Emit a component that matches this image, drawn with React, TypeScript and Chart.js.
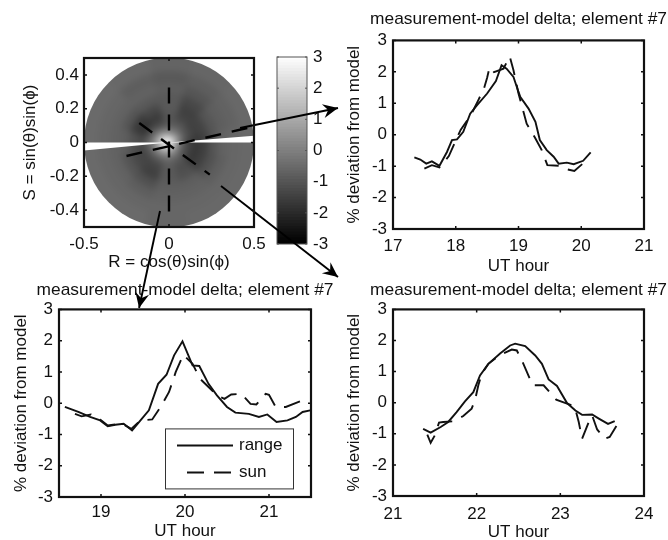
import React, { useEffect, useRef } from "react";
import { Chart, registerables } from "chart.js";

Chart.register(...registerables);

const FONT = "'Liberation Sans', Arial, sans-serif";
const FS = 17;
const TITLE_FS = 17.35;
const INK = "#111";
const TITLE = "measurement-model delta; element #7";

// ---------- data ----------
const yTicks = [-3, -2, -1, 0, 1, 2, 3];

const p1XTicks = [17, 18, 19, 20, 21];
const p1RangeX = [17.34, 17.435, 17.53, 17.62, 17.74, 17.86, 17.94, 18.02, 18.12, 18.23, 18.34, 18.5, 18.64, 18.73, 18.81, 18.92, 19.0, 19.03, 19.16, 19.27, 19.34, 19.45, 19.56, 19.64, 19.77, 19.88, 20.03, 20.15];
const p1RangeY = [-0.72, -0.79, -0.92, -0.85, -0.99, -0.55, -0.17, -0.15, 0.09, 0.67, 0.94, 1.31, 1.71, 2.21, 2.1, 1.84, 1.36, 1.2, 0.83, 0.41, -0.17, -0.49, -0.7, -0.92, -0.89, -0.94, -0.83, -0.56];
const p1SunX = [17.5, 17.62, 17.74, 17.89, 17.99, 18.08, 18.24, 18.36, 18.45, 18.5, 18.54, 18.61, 18.76, 18.86, 18.92, 19.0, 19.08, 19.13, 19.27, 19.37, 19.46, 19.66, 19.77, 19.89, 20.06];
const p1SunY = [-1.08, -0.97, -1.04, -0.68, -0.23, 0.16, 0.62, 1.1, 1.47, 1.81, 2.15, 1.99, 2.1, 2.49, 2.05, 1.31, 0.72, 0.35, -0.12, -0.49, -0.97, -0.99, -1.1, -1.15, -0.86];

const p2XTicks = [19, 20, 21];
const p2RangeX = [18.57, 18.73, 18.87, 18.99, 19.08, 19.17, 19.27, 19.37, 19.47, 19.57, 19.68, 19.78, 19.87, 19.97, 20.09, 20.17, 20.28, 20.38, 20.5, 20.6, 20.76, 20.88, 20.98, 21.09, 21.22, 21.32, 21.4, 21.49];
const p2RangeY = [-0.12, -0.28, -0.44, -0.55, -0.74, -0.69, -0.66, -0.87, -0.55, -0.23, 0.62, 0.91, 1.53, 1.98, 1.21, 1.19, 0.62, 0.25, -0.12, -0.3, -0.34, -0.44, -0.36, -0.6, -0.55, -0.44, -0.28, -0.23];
const p2SunX = [18.69, 18.77, 18.88, 18.99, 19.08, 19.17, 19.27, 19.36, 19.47, 19.61, 19.71, 19.81, 19.89, 19.98, 20.09, 20.18, 20.28, 20.38, 20.47, 20.55, 20.67, 20.78, 20.85, 20.96, 21.0, 21.08, 21.2, 21.4];
const p2SunY = [-0.34, -0.42, -0.36, -0.52, -0.71, -0.68, -0.68, -0.82, -0.55, -0.52, -0.12, 0.36, 1.0, 1.55, 1.26, 0.78, 0.52, 0.25, 0.14, 0.28, 0.3, -0.02, -0.04, 0.3, 0.27, -0.12, -0.12, 0.09];

const p3XTicks = [21, 22, 23, 24];
const p3RangeX = [21.36, 21.45, 21.57, 21.66, 21.76, 21.86, 21.96, 22.04, 22.14, 22.28, 22.4, 22.46, 22.58, 22.7, 22.78, 22.86, 22.96, 23.08, 23.18, 23.26, 23.38, 23.46, 23.57, 23.65];
const p3RangeY = [-0.84, -0.96, -0.78, -0.62, -0.3, 0.04, 0.34, 0.88, 1.25, 1.58, 1.84, 1.9, 1.82, 1.52, 1.25, 0.75, 0.54, -0.01, -0.25, -0.39, -0.38, -0.51, -0.68, -0.59];
const p3SunX = [21.41, 21.45, 21.5, 21.55, 21.6, 21.72, 21.84, 21.94, 21.98, 22.02, 22.06, 22.14, 22.28, 22.42, 22.48, 22.54, 22.67, 22.8, 22.95, 23.08, 23.17, 23.22, 23.26, 23.34, 23.38, 23.44, 23.53, 23.59, 23.67];
const p3SunY = [-1.03, -1.29, -1.05, -0.64, -0.62, -0.6, -0.43, -0.19, 0.08, 0.56, 0.93, 1.25, 1.54, 1.71, 1.68, 1.36, 0.56, 0.56, 0.1, -0.03, -0.11, -0.62, -1.16, -0.62, -0.41, -0.86, -1.16, -1.1, -0.75];

// residual map: ring radius, then value per 30-degree sector (0 = +R, counter-clockwise)
const ringRadii = [0.012, 0.03, 0.05, 0.075, 0.105, 0.14, 0.185, 0.235, 0.29, 0.35, 0.42, 0.5];
const ringValues = [
  [3, 3, 3, 3, 3, 3, 3, 3, 3, 3, 3, 3],
  [2.2, 2.4, 2.4, 2.4, 2.8, 2.9, 3.0, 2.8, 2.6, 2.4, 2.3, 2.2],
  [0.9, 1.2, 1.1, 1.2, 1.7, 2.0, 2.3, 2.0, 1.6, 1.4, 1.1, 0.9],
  [-0.2, 0.2, 0.1, 0.1, 0.5, 1.0, 1.3, 1.0, 0.7, 0.5, 0.2, -0.1],
  [-1.0, -0.7, -0.6, -0.6, -0.6, -0.1, 0.2, 0.0, -0.2, -0.3, -0.5, -0.9],
  [-1.5, -1.2, -1.0, -1.0, -1.3, -1.1, -0.7, -0.9, -1.0, -0.8, -1.0, -1.4],
  [-1.7, -1.5, -1.4, -1.0, -1.6, -1.8, -1.3, -1.4, -1.4, -0.9, -1.2, -1.7],
  [-1.5, -1.4, -1.5, -0.9, -1.3, -1.6, -1.1, -1.3, -1.5, -0.9, -1.1, -1.5],
  [-1.0, -1.0, -1.3, -0.9, -0.9, -1.0, -0.8, -1.0, -1.1, -0.8, -0.8, -1.1],
  [-0.7, -0.8, -1.0, -0.8, -0.7, -0.7, -0.7, -0.7, -0.8, -0.7, -0.7, -0.8],
  [-0.6, -0.7, -0.8, -0.9, -0.8, -0.6, -0.6, -0.6, -0.6, -0.6, -0.6, -0.6],
  [-0.55, -0.55, -0.6, -0.65, -0.55, -0.5, -0.5, -0.5, -0.5, -0.6, -0.55, -0.55],
];
// data gaps: angular wedges in degrees
const gapWedges = [[0, 4.6], [180, 185.4]];
const mapXTicks = [-0.5, 0, 0.5];
const mapYTicks = [-0.4, -0.2, 0, 0.2, 0.4];
const scanVertical = [[0, 0.325], [0, -0.41]];
const scanShallow = [[-0.25, -0.08], [0.5, 0.095]];
const scanDiagonal = [[-0.175, 0.115], [0.24, -0.19]];
const arrowRight = [[0.418, 0.086], [0.994, 0.204]];
const arrowLower = [[0.306, -0.257], [0.994, -0.796]];
const arrowDown = [[-0.053, -0.405], [-0.176, -0.979]];
const colorbarTicks = [-3, -2, -1, 0, 1, 2, 3];

// ---------- helpers ----------
const toPts = (x: number[], y: number[]) => x.map((v, i) => ({ x: v, y: y[i] }));
const pairs = (a: number[][]) => a.map(([x, y]) => ({ x, y }));
const gray = (v: number) => {
  const g = Math.round(Math.max(0, Math.min(1, (v + 3) / 6)) * 255);
  return `rgb(${g},${g},${g})`;
};

const boxTicks = (len: number, color = INK, width = 1.5) => ({
  id: "boxTicks",
  afterDatasetsDraw(chart: any) {
    const { ctx, chartArea: a, scales } = chart;
    ctx.save();
    ctx.strokeStyle = color;
    ctx.lineWidth = width;
    ctx.beginPath();
    for (const t of scales.x.ticks) {
      const px = scales.x.getPixelForValue(t.value);
      ctx.moveTo(px, a.top); ctx.lineTo(px, a.top + len);
      ctx.moveTo(px, a.bottom); ctx.lineTo(px, a.bottom - len);
    }
    for (const t of scales.y.ticks) {
      const py = scales.y.getPixelForValue(t.value);
      ctx.moveTo(a.left, py); ctx.lineTo(a.left + len, py);
      ctx.moveTo(a.right, py); ctx.lineTo(a.right - len, py);
    }
    ctx.stroke();
    ctx.lineWidth = 2.2;
    ctx.strokeRect(a.left, a.top, a.right - a.left, a.bottom - a.top);
    ctx.restore();
  },
});

const useChart = (build: () => any) => {
  const ref = useRef<HTMLCanvasElement>(null);
  useEffect(() => {
    const chart = new Chart(ref.current as any, build());
    return () => chart.destroy();
  }, []);
  return ref;
};

const font = { family: FONT, size: FS, weight: "normal" };
const noGrid = { display: false, drawTicks: false };

const legendPlugin = (box: { dx: number; dy: number; w: number; h: number }) => ({
  id: "boxLegend",
  afterDatasetsDraw(chart: any) {
    const { ctx, chartArea: a, data } = chart;
    const x0 = a.left + box.dx, y0 = a.top + box.dy;
    ctx.save();
    ctx.fillStyle = "#fff";
    ctx.fillRect(x0, y0, box.w, box.h);
    ctx.strokeStyle = "#333";
    ctx.lineWidth = 1;
    ctx.strokeRect(x0 + 0.5, y0 + 0.5, box.w, box.h);
    ctx.font = `${FS}px ${FONT}`;
    ctx.textBaseline = "middle";
    data.datasets.forEach((d: any, i: number) => {
      const y = y0 + 17 + i * 27;
      ctx.beginPath();
      ctx.setLineDash(d.borderDash || []);
      ctx.lineWidth = 2;
      ctx.strokeStyle = d.borderColor;
      ctx.moveTo(x0 + (i ? 22 : 12), y);
      ctx.lineTo(x0 + 68, y);
      ctx.stroke();
      ctx.setLineDash([]);
      ctx.fillStyle = INK;
      ctx.fillText(d.label, x0 + 74, y);
    });
    ctx.restore();
  },
});

type PanelProps = {
  left: number; width: number; yW: number; top: number; plotTop: number; plotBottom: number; xH: number;
  xMin: number; xMax: number; xTicks: number[]; range: any[]; sun: any[];
  tickPad: number; yTitlePad: number; legend?: boolean;
};

function Panel(p: PanelProps) {
  const lh = TITLE_FS * 1.2;
  const height = p.plotBottom - p.top + p.xH;
  const ref = useChart(() => ({
    type: "line",
    data: {
      datasets: [
        { label: "range", data: p.range, borderColor: INK, borderWidth: 1.9, pointRadius: 0, tension: 0 },
        { label: "sun", data: p.sun, borderColor: INK, borderWidth: 1.9, borderDash: [17, 10], pointRadius: 0, tension: 0 },
      ],
    },
    plugins: [boxTicks(3), ...(p.legend ? [legendPlugin({ dx: 106, dy: 119, w: 128, h: 60 })] : [])],
    options: {
      responsive: false,
      animation: false,
      devicePixelRatio: 1,
      plugins: {
        legend: { display: false },
        tooltip: { enabled: false },
        title: {
          display: true, text: TITLE, color: INK, font: { ...font, size: TITLE_FS },
          padding: { top: 0, bottom: p.plotTop - p.top - lh },
        },
      },
      scales: {
        x: {
          type: "linear", min: p.xMin, max: p.xMax,
          grid: noGrid, border: { display: false },
          afterBuildTicks: (s: any) => { s.ticks = p.xTicks.map((value) => ({ value })); },
          afterFit: (s: any) => { s.height = p.xH; },
          ticks: { color: INK, font, padding: p.tickPad, maxRotation: 0, autoSkip: false },
          title: { display: true, text: "UT hour", color: INK, font, padding: { top: 0, bottom: 0 } },
        },
        y: {
          type: "linear", min: -3, max: 3,
          grid: noGrid, border: { display: false },
          afterBuildTicks: (s: any) => { s.ticks = yTicks.map((value) => ({ value })); },
          afterFit: (s: any) => { s.width = p.yW; },
          ticks: { color: INK, font, padding: 6, autoSkip: false },
          title: { display: true, text: "% deviation from model", color: INK, font, padding: { top: p.yTitlePad, bottom: 0 } },
        },
        // empty right-hand axis: keeps the plot centred under the title
        y2: {
          type: "linear", position: "right", min: -3, max: 3,
          grid: noGrid, border: { display: false },
          ticks: { display: false },
          afterFit: (s: any) => { s.width = p.yW; },
        },
      },
    },
  }));
  return <canvas ref={ref} width={p.width} height={height} style={{ position: "absolute", left: p.left, top: p.top }} />;
}

const heatPlugin = {
  id: "heat",
  beforeDatasetsDraw(chart: any) {
    const { ctx, scales: { x, y } } = chart;
    const cx = x.getPixelForValue(0), cy = y.getPixelForValue(0);
    const rad = x.getPixelForValue(0.5) - cx;
    const raw = document.createElement("canvas");
    raw.width = chart.width; raw.height = chart.height;
    const o = raw.getContext("2d") as any;
    const n = ringValues[0].length;
    const step = (2 * Math.PI) / n;
    for (let r = ringRadii.length - 1; r >= 0; r--) {
      const grow = r === ringRadii.length - 1 ? 1.3 : 1;
      const R = (ringRadii[r] / 0.5) * rad * grow;
      for (let s = 0; s < n; s++) {
        o.beginPath();
        o.moveTo(cx, cy);
        o.arc(cx, cy, R, -(s + 0.5) * step - 0.02, -(s - 0.5) * step + 0.02);
        o.closePath();
        o.fillStyle = gray(ringValues[r][s]);
        o.fill();
      }
    }
    const off = document.createElement("canvas");
    off.width = chart.width; off.height = chart.height;
    const b = off.getContext("2d") as any;
    b.filter = "blur(3px)";
    b.drawImage(raw, 0, 0);
    ctx.save();
    ctx.beginPath();
    ctx.arc(cx, cy, rad, 0, Math.PI * 2);
    ctx.clip();
    ctx.drawImage(off, 0, 0);
    ctx.fillStyle = "#fff";
    for (const [a0, a1] of gapWedges) {
      ctx.beginPath();
      ctx.moveTo(cx, cy);
      ctx.arc(cx, cy, rad * 1.1, -(a1 * Math.PI) / 180, -(a0 * Math.PI) / 180);
      ctx.closePath();
      ctx.fill();
    }
    ctx.restore();
  },
};

const arrowHeads = {
  id: "arrowHeads",
  afterDatasetsDraw(chart: any) {
    const { ctx, scales: { x, y } } = chart;
    ctx.save();
    ctx.fillStyle = "#000";
    for (const d of chart.data.datasets) {
      if (!d.arrow) continue;
      const [a, b] = d.data;
      const x0 = x.getPixelForValue(a.x), y0 = y.getPixelForValue(a.y);
      const x1 = x.getPixelForValue(b.x), y1 = y.getPixelForValue(b.y);
      const t = Math.atan2(y1 - y0, x1 - x0);
      const pt = (l: number, w: number) => [x1 - l * Math.cos(t) - w * Math.sin(t), y1 - l * Math.sin(t) + w * Math.cos(t)];
      ctx.beginPath();
      ctx.moveTo(x1, y1);
      ctx.lineTo(...(pt(15, 7) as [number, number]));
      ctx.lineTo(...(pt(10, 0) as [number, number]));
      ctx.lineTo(...(pt(15, -7) as [number, number]));
      ctx.closePath();
      ctx.fill();
    }
    ctx.restore();
  },
};

function MapPanel() {
  const ref = useChart(() => {
    const dashed = (data: number[][]) => ({
      data: pairs(data), borderColor: "#000", borderWidth: 2.4, borderDash: [16, 11], pointRadius: 0, clip: false,
    });
    const arrow = (data: number[][]) => ({
      data: pairs(data), borderColor: "#000", borderWidth: 1.9, pointRadius: 0, clip: false, arrow: true,
    });
    return {
      type: "line",
      data: { datasets: [dashed(scanVertical), dashed(scanShallow), dashed(scanDiagonal), arrow(arrowRight), arrow(arrowLower), arrow(arrowDown)] },
      plugins: [heatPlugin, boxTicks(3), arrowHeads],
      options: {
        responsive: false,
        animation: false,
        devicePixelRatio: 1,
        layout: { padding: { left: 0, right: 414, top: 58, bottom: 253 } },
        plugins: { legend: { display: false }, tooltip: { enabled: false } },
        scales: {
          x: {
            type: "linear", min: -0.5, max: 0.5,
            grid: noGrid, border: { display: false },
            afterBuildTicks: (s: any) => { s.ticks = mapXTicks.map((value) => ({ value })); },
            afterFit: (s: any) => { s.height = 60; },
            ticks: { color: INK, font, padding: 7, maxRotation: 0, autoSkip: false, callback: (v: any) => String(v) },
            title: { display: true, text: "R = cos(θ)sin(ϕ)", color: INK, font, padding: { top: 0, bottom: 14 } },
          },
          y: {
            type: "linear", min: -0.5, max: 0.5,
            grid: noGrid, border: { display: false },
            afterBuildTicks: (s: any) => { s.ticks = mapYTicks.map((value) => ({ value })); },
            afterFit: (s: any) => { s.width = 84; },
            ticks: { color: INK, font, padding: 5, autoSkip: false, callback: (v: any) => String(v) },
            title: { display: true, text: "S = sin(θ)sin(ϕ)", color: INK, font, padding: { top: 20, bottom: 0 } },
          },
        },
      },
    };
  });
  return <canvas ref={ref} width={668} height={540} style={{ position: "absolute", left: 0, top: 0, zIndex: 5 }} />;
}

function Colorbar() {
  const ref = useChart(() => {
    const levels: number[] = [];
    for (let i = 0; i < 64; i++) levels.push(-3 + (i * 6) / 64);
    return {
      type: "bar",
      data: {
        labels: ["c"],
        datasets: levels.map((l) => ({
          data: [[l, l + 6 / 64 + 0.005]], backgroundColor: gray(l + 3 / 64), barPercentage: 1, categoryPercentage: 1, grouped: false,
        })),
      },
      plugins: [{
        id: "cbBox",
        afterDatasetsDraw(chart: any) {
          const { ctx, chartArea: a, scales: { y } } = chart;
          ctx.save();
          ctx.strokeStyle = "#555";
          ctx.lineWidth = 1;
          ctx.strokeRect(a.left, a.top, a.right - a.left, a.bottom - a.top);
          ctx.beginPath();
          for (const t of y.ticks) {
            const py = y.getPixelForValue(t.value);
            ctx.moveTo(a.left, py); ctx.lineTo(a.left + 2, py);
            ctx.moveTo(a.right, py); ctx.lineTo(a.right - 2, py);
          }
          ctx.stroke();
          ctx.restore();
        },
      }],
      options: {
        responsive: false,
        animation: false,
        devicePixelRatio: 1,
        layout: { padding: { left: 7, right: 0, top: 17, bottom: 17 } },
        plugins: { legend: { display: false }, tooltip: { enabled: false } },
        scales: {
          x: { display: false },
          y: {
            position: "right", min: -3, max: 3,
            grid: noGrid, border: { display: false },
            afterBuildTicks: (s: any) => { s.ticks = colorbarTicks.map((value) => ({ value })); },
            afterFit: (s: any) => { s.width = 30; },
            ticks: { color: INK, font, padding: 6, autoSkip: false },
          },
        },
      },
    };
  });
  return <canvas ref={ref} width={67} height={221} style={{ position: "absolute", left: 270, top: 40 }} />;
}

export default function App() {
  const lh = TITLE_FS * 1.2;
  return (
    <div style={{ position: "absolute", left: 0, top: 0, width: 668, height: 540, overflow: "hidden", background: "#fff", filter: "blur(0.45px)" }}>
      <Colorbar />
      <Panel left={340} width={357} yW={53} top={19 - lh / 2} plotTop={40} plotBottom={229} xH={48} xMin={17} xMax={21}
        xTicks={p1XTicks} range={toPts(p1RangeX, p1RangeY)} sun={toPts(p1SunX, p1SunY)} tickPad={7} yTitlePad={4} />
      <Panel left={7} width={356} yW={52} top={290 - lh / 2} plotTop={309} plotBottom={497} xH={45} xMin={18.5} xMax={21.5}
        xTicks={p2XTicks} range={toPts(p2RangeX, p2RangeY)} sun={toPts(p2SunX, p2SunY)} tickPad={5} yTitlePad={4} legend />
      <Panel left={340} width={357} yW={53} top={290 - lh / 2} plotTop={309} plotBottom={496} xH={47} xMin={21} xMax={24}
        xTicks={p3XTicks} range={toPts(p3RangeX, p3RangeY)} sun={toPts(p3SunX, p3SunY)} tickPad={8} yTitlePad={4} />
      <MapPanel />
    </div>
  );
}
